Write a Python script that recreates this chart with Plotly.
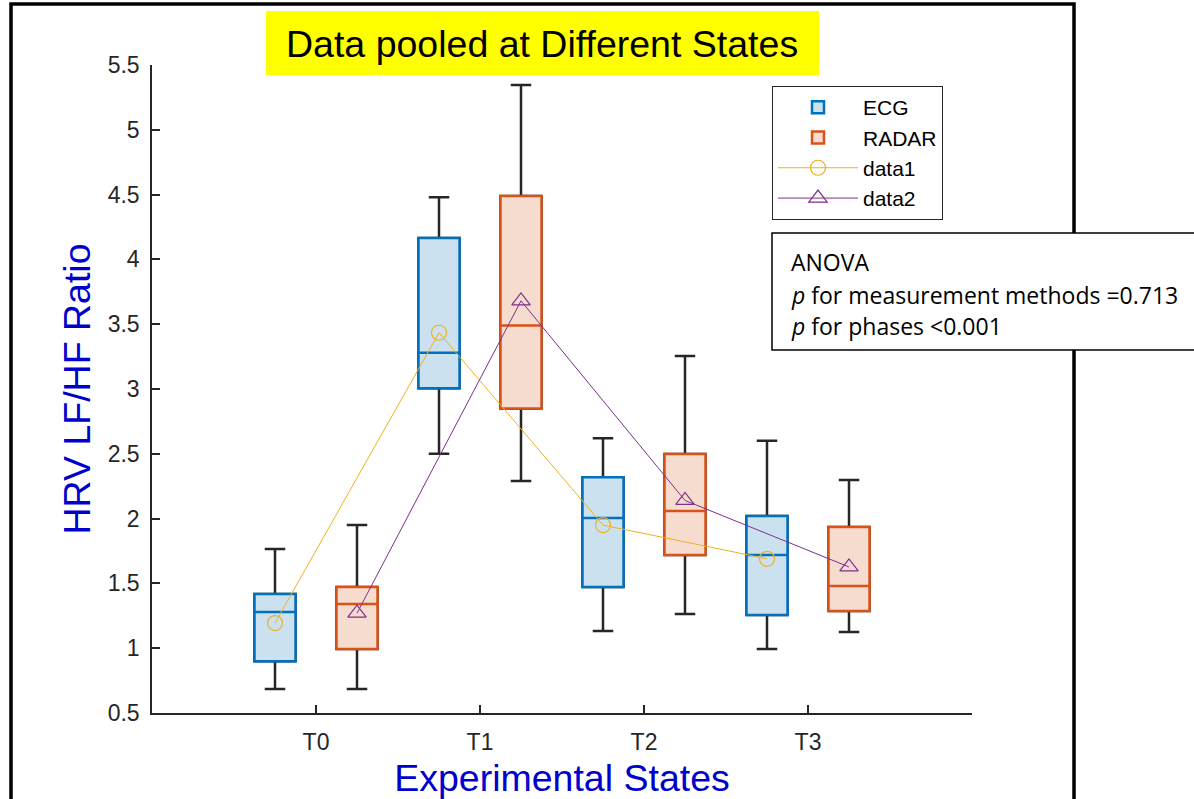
import plotly.graph_objects as go

states = ["T0", "T1", "T2", "T3"]
state_pos = [1, 2, 3, 4]

# ECG box statistics
ecg_lower = [0.685, 2.50, 1.133, 0.994]
ecg_q1 = [0.90, 3.005, 1.472, 1.256]
ecg_median = [1.279, 3.28, 2.005, 1.72]
ecg_q3 = [1.418, 4.165, 2.32, 2.02]
ecg_upper = [1.765, 4.48, 2.62, 2.60]
ecg_mean = [1.194, 3.434, 1.95, 1.69]

# RADAR box statistics
radar_lower = [0.685, 2.29, 1.264, 1.125]
radar_q1 = [0.994, 2.85, 1.72, 1.287]
radar_median = [1.341, 3.49, 2.059, 1.48]
radar_q3 = [1.472, 4.489, 2.498, 1.935]
radar_upper = [1.95, 5.345, 3.255, 2.298]
radar_mean = [1.27, 3.68, 2.14, 1.627]

OFFSET = 0.25
ecg_x = [p - OFFSET for p in state_pos]
radar_x = [p + OFFSET for p in state_pos]

DARK = "#262626"
ECG_LINE, ECG_FILL = "#0072BD", "#CCE1F0"
RAD_LINE, RAD_FILL = "#D95319", "#F6DBCF"
MEAN1, MEAN2 = "#EDB120", "#7E2F8E"
FONT = "Liberation Sans, Arial, sans-serif"

fig = go.Figure()

# whiskers (black) drawn underneath
for xs, lo, q1, med, q3, up in [
    (ecg_x, ecg_lower, ecg_q1, ecg_median, ecg_q3, ecg_upper),
    (radar_x, radar_lower, radar_q1, radar_median, radar_q3, radar_upper),
]:
    fig.add_trace(go.Box(
        x=xs, q1=q1, median=med, q3=q3, lowerfence=lo, upperfence=up,
        width=0.25, whiskerwidth=0.5, fillcolor="rgba(0,0,0,0)",
        line=dict(color=DARK, width=2.5), showlegend=False, hoverinfo="skip",
    ))

# coloured boxes on top
fig.add_trace(go.Box(
    x=ecg_x, q1=ecg_q1, median=ecg_median, q3=ecg_q3,
    lowerfence=ecg_q1, upperfence=ecg_q3, width=0.25, whiskerwidth=0,
    fillcolor=ECG_FILL, line=dict(color=ECG_LINE, width=2.5), name="ECG",
))
fig.add_trace(go.Box(
    x=radar_x, q1=radar_q1, median=radar_median, q3=radar_q3,
    lowerfence=radar_q1, upperfence=radar_q3, width=0.25, whiskerwidth=0,
    fillcolor=RAD_FILL, line=dict(color=RAD_LINE, width=2.5), name="RADAR",
))

fig.add_trace(go.Scatter(
    x=ecg_x, y=ecg_mean, mode="lines+markers", name="data1",
    line=dict(color=MEAN1, width=1),
    marker=dict(symbol="circle-open", size=15, color=MEAN1, line=dict(width=1.2)),
))
fig.add_trace(go.Scatter(
    x=radar_x, y=radar_mean, mode="lines+markers", name="data2",
    line=dict(color=MEAN2, width=1),
    marker=dict(symbol="triangle-up-open", size=16, color=MEAN2, line=dict(width=1.2)),
))

L, R, T, B = 152, 222, 65, 86
W, H = 1194, 799
pw, ph = W - L - R, H - T - B


def px(x):
    return (x - L) / pw


def py(y):
    return (H - B - y) / ph


shapes = [
    # outer frame
    dict(type="rect", xref="paper", yref="paper", x0=px(11), x1=px(1074),
         y0=py(830), y1=py(4), line=dict(color="black", width=3.5),
         fillcolor="rgba(0,0,0,0)", layer="above"),
    # title background
    dict(type="rect", xref="paper", yref="paper", x0=px(266), x1=px(819),
         y0=py(75), y1=py(11), line=dict(width=0), fillcolor="#FFFF00", layer="above"),
    # ANOVA box
    dict(type="rect", xref="paper", yref="paper", x0=px(772), x1=px(1230),
         y0=py(350), y1=py(233), line=dict(color="black", width=1.5),
         fillcolor="white", layer="above"),
]

annotations = [
    dict(text="Data pooled at Different States", xref="paper", yref="paper",
         x=px(542), y=py(44), xanchor="center", yanchor="middle", showarrow=False,
         font=dict(family=FONT, size=37.5, color="black")),
]
anova_lines = ["ANOVA", "<i>p</i> for measurement methods =0.713", "<i>p</i> for phases &lt;0.001"]
anova_y = [262, 295, 326]
for txt, yy in zip(anova_lines, anova_y):
    annotations.append(dict(text=txt, xref="paper", yref="paper", x=px(789), y=py(yy),
                            xanchor="left", yanchor="middle", showarrow=False,
                            font=dict(family="Open Sans, sans-serif", size=23, color="black")))

fig.update_layout(
    width=W, height=H,
    margin=dict(l=L, r=R, t=T, b=B, autoexpand=False),
    paper_bgcolor="white", plot_bgcolor="white",
    boxmode="overlay",
    font=dict(family=FONT, color=DARK),
    shapes=shapes, annotations=annotations,
    legend=dict(x=px(772), y=py(86), xanchor="left", yanchor="top",
                bordercolor=DARK, borderwidth=1, bgcolor="white",
                font=dict(family=FONT, size=21, color="black"),
                itemwidth=80, tracegroupgap=0),
    xaxis=dict(range=[0, 5], tickvals=state_pos, ticktext=states,
               showline=True, linecolor=DARK, linewidth=1.5, ticks="inside",
               ticklen=8, tickwidth=1.5, tickcolor=DARK, showgrid=False, zeroline=False,
               tickfont=dict(size=23, color=DARK), ticklabelstandoff=8,
               title=dict(text="Experimental States", standoff=10,
                          font=dict(size=37.5, color="#0000CC"))),
    yaxis=dict(range=[0.5, 5.5], dtick=0.5, tick0=0.5,
               showline=True, linecolor=DARK, linewidth=1.5, ticks="inside",
               ticklen=8, tickwidth=1.5, tickcolor=DARK, showgrid=False, zeroline=False,
               tickfont=dict(size=23, color=DARK), ticklabelstandoff=6,
               title=dict(text="HRV LF/HF Ratio", standoff=6,
                          font=dict(size=37.5, color="#0000CC"))),
)

fig.write_html("out.html")
